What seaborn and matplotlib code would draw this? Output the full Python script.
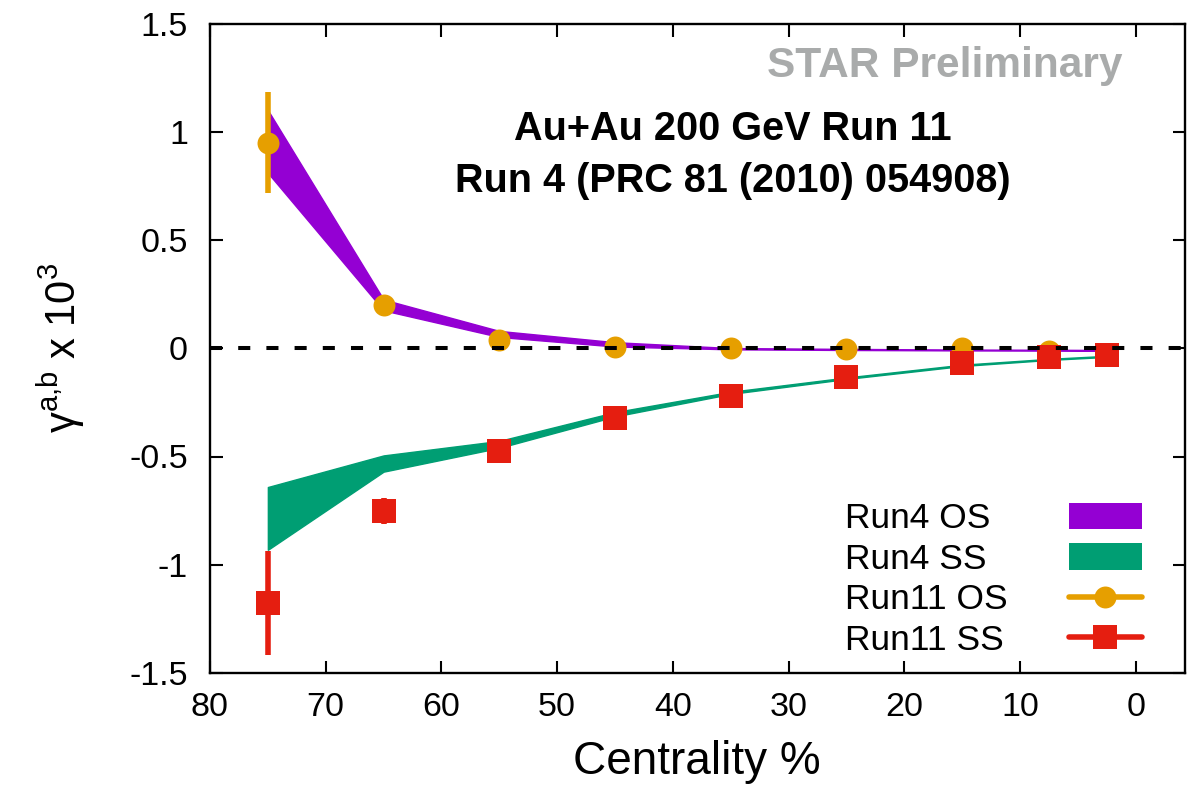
import matplotlib
matplotlib.use("Agg")
import matplotlib.pyplot as plt
import seaborn as sns
import pandas as pd
from matplotlib.patches import Patch
from matplotlib.lines import Line2D

# ---------------- data ----------------
centrality_run4 = [75, 65, 55, 45, 35, 25, 15, 7.5, 2.5]
run4_os_low = [0.81, 0.175, 0.052, 0.008, -0.005, -0.008, -0.010, -0.011, -0.012]
run4_os_high = [1.10, 0.225, 0.080, 0.028, 0.001, -0.003, -0.006, -0.007, -0.008]
run4_ss_low = [-0.931, -0.570, -0.460, -0.315, -0.211, -0.142, -0.082, -0.054, -0.040]
run4_ss_high = [-0.641, -0.495, -0.428, -0.295, -0.201, -0.135, -0.076, -0.049, -0.035]

centrality_run11_os = [75, 65, 55, 45, 35, 25, 15, 7.5]
run11_os = [0.950, 0.200, 0.040, 0.004, 0.000, -0.002, -0.001, -0.015]
run11_os_err = [0.235, 0.020, 0.010, 0.006, 0.004, 0.003, 0.003, 0.003]

centrality_run11_ss = [75, 65, 55, 45, 35, 25, 15, 7.5, 2.5]
run11_ss = [-1.175, -0.750, -0.474, -0.322, -0.220, -0.132, -0.067, -0.039, -0.030]
run11_ss_err = [0.240, 0.060, 0.020, 0.010, 0.006, 0.004, 0.003, 0.003, 0.003]

x_ticks = [80, 70, 60, 50, 40, 30, 20, 10, 0]
y_ticks = [-1.5, -1.0, -0.5, 0.0, 0.5, 1.0, 1.5]
y_tick_labels = ["-1.5", "-1", "-0.5", "0", "0.5", "1", "1.5"]

series_labels = ["Run4 OS", "Run4 SS", "Run11 OS", "Run11 SS"]

c_purple = "#9400D3"
c_green = "#009E73"
c_orange = "#E69F00"
c_red = "#E51E10"

# ---------------- style ----------------
sns.set_theme(style="ticks")
plt.rcParams["font.family"] = ["Liberation Sans", "DejaVu Sans"]
plt.rcParams["mathtext.fontset"] = "custom"
plt.rcParams["mathtext.rm"] = "Liberation Sans"
plt.rcParams["mathtext.it"] = "Liberation Sans:italic"
plt.rcParams["mathtext.bf"] = "Liberation Sans:bold"
plt.rcParams["mathtext.default"] = "regular"
plt.rcParams["text.color"] = "black"
plt.rcParams["axes.labelcolor"] = "black"
plt.rcParams["xtick.color"] = "black"
plt.rcParams["ytick.color"] = "black"

fig = plt.figure(figsize=(12, 7.91), dpi=100)
ax = fig.add_axes([210 / 1200, 1 - 673 / 791, 975 / 1200, 649.5 / 791])

df4 = pd.DataFrame({"c": centrality_run4, "os_lo": run4_os_low, "os_hi": run4_os_high,
                    "ss_lo": run4_ss_low, "ss_hi": run4_ss_high})
df_os = pd.DataFrame({"c": centrality_run11_os, "v": run11_os, "e": run11_os_err})
df_ss = pd.DataFrame({"c": centrality_run11_ss, "v": run11_ss, "e": run11_ss_err})

# Run4 bands
ax.fill_between(df4["c"], df4["ss_lo"], df4["ss_hi"], color=c_green, lw=1.0,
                edgecolor=c_green, zorder=2)
ax.fill_between(df4["c"], df4["os_lo"], df4["os_hi"], color=c_purple, lw=1.0,
                edgecolor=c_purple, zorder=2)

# Run11 OS
ax.errorbar(df_os["c"], df_os["v"], yerr=df_os["e"], fmt="none", ecolor=c_orange,
            elinewidth=4, capsize=0, zorder=3)
sns.scatterplot(data=df_os, x="c", y="v", marker="o", s=250, color=c_orange,
                linewidth=0, ax=ax, zorder=4, legend=False)

# Run11 SS
ax.errorbar(df_ss["c"], df_ss["v"], yerr=df_ss["e"], fmt="none", ecolor=c_red,
            elinewidth=4, capsize=0, zorder=5)
sns.scatterplot(data=df_ss, x="c", y="v", marker="s", s=275, color=c_red,
                linewidth=0, ax=ax, zorder=6, legend=False)

# zero line
ax.axhline(0, color="black", lw=2.9, dashes=(3, 4), zorder=7)

# axes
ax.set_xlim(80, -4.25)
ax.set_ylim(-1.5, 1.5)
ax.set_xticks(x_ticks)
ax.set_xticklabels([str(t) for t in x_ticks])
ax.set_yticks(y_ticks)
ax.set_yticklabels(y_tick_labels)
ax.tick_params(axis="both", direction="in", length=9, width=1.5, labelsize=24.5,
               top=True, right=True, colors="black")
ax.tick_params(axis="x", pad=14)
ax.tick_params(axis="y", pad=16)
ax.minorticks_off()
for sp in ax.spines.values():
    sp.set_visible(True)
    sp.set_linewidth(1.7)
    sp.set_color("black")

ax.set_xlabel("Centrality %", fontsize=33, color="black")
ax.xaxis.set_label_coords(0.4995, -0.103)
ax.set_ylabel(r"$\gamma^{a{,}b}$ x 10$^{3}$", fontsize=30, color="black")
ax.yaxis.set_label_coords(-0.1262, 0.5)

# annotations
ax.text(0.5364, 0.8206, "Au+Au 200 GeV Run 11", transform=ax.transAxes,
        ha="center", va="baseline", fontsize=28.5, fontweight="bold", color="black")
ax.text(0.5364, 0.741, "Run 4 (PRC 81 (2010) 054908)", transform=ax.transAxes,
        ha="center", va="baseline", fontsize=28.5, fontweight="bold", color="black")
ax.text(0.9354, 0.918, "STAR Preliminary", transform=ax.transAxes,
        ha="right", va="baseline", fontsize=30.5, fontweight="bold", color="#a9abab")

# legend: labels column (left-aligned) + handles column
blank = Line2D([], [], linestyle="none")
handles = [blank] * 4 + [
    Patch(facecolor=c_purple, edgecolor="none"),
    Patch(facecolor=c_green, edgecolor="none"),
    Line2D([], [], color=c_orange, lw=4, marker="o", markersize=15.8, markeredgewidth=0),
    Line2D([], [], color=c_red, lw=4, marker="s", markersize=16.6, markeredgewidth=0),
]
labels = series_labels + [""] * 4
leg = ax.legend(handles, labels, ncol=2, loc="upper left",
                bbox_to_anchor=(0.5621, 0.2626), frameon=False, fontsize=25.5,
                borderpad=0, borderaxespad=0, handlelength=2.06, handletextpad=0.4,
                columnspacing=1.72, labelspacing=0.21, handleheight=0.77)
for t in leg.get_texts():
    t.set_color("black")
leg.set_zorder(10)

fig.savefig("out.png", dpi=100)
